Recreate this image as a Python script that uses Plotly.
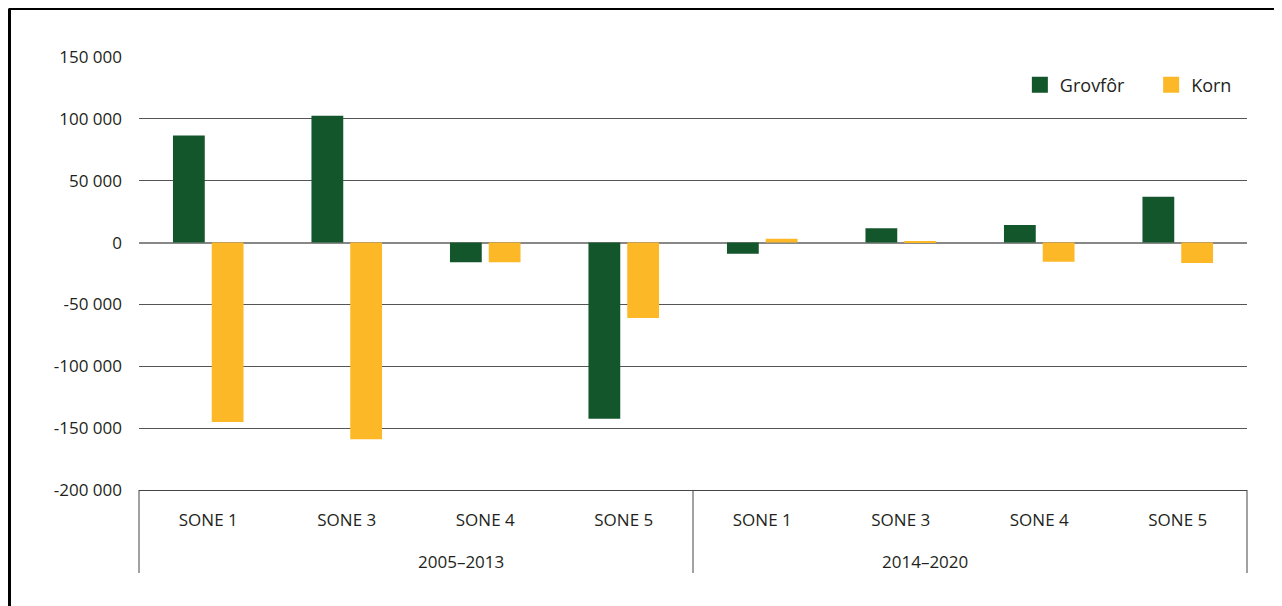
import plotly.graph_objects as go

periods = ["2005–2013", "2014–2020"]
zones = ["SONE 1", "SONE 3", "SONE 4", "SONE 5"]
categories = [f"{p} {z}" for p in periods for z in zones]
tick_labels = zones * 2
series_names = ["Grovfôr", "Korn"]
grovfor = [86500, 102500, -16000, -142500, -9000, 11500, 14300, 37000]
korn = [-145000, -159000, -16000, -61000, 3000, 800, -15500, -16500]
ytick_vals = [150000, 100000, 50000, 0, -50000, -100000, -150000, -200000]
ytick_text = ["150 000", "100 000", "50 000", "0", "-50 000", "-100 000", "-150 000", "-200 000"]

GREEN = "#14562c"
YELLOW = "#fcb827"
TEXT = "#231f20"
FONT = "Open Sans"
colors = [GREEN, YELLOW]
legend_ids = ["legend", "legend2"]

fig = go.Figure()
for name, vals, col in zip(series_names, [grovfor, korn], colors):
    fig.add_trace(go.Bar(x=categories, y=vals, name=name, showlegend=False,
                         marker=dict(color=col, line=dict(width=0))))
# legend entries with larger square symbols
for name, col, lg in zip(series_names, colors, legend_ids):
    fig.add_trace(go.Scatter(x=[None], y=[None], mode="markers", name=name, legend=lg,
                             marker=dict(symbol="square", size=16, color=col)))

PLOT_H = 598 - 49 - 116
leg_common = dict(orientation="h", y=0.935, xanchor="left", yanchor="middle",
                  font=dict(size=18, color=TEXT), bgcolor="rgba(0,0,0,0)")

fig.update_layout(
    width=1274, height=598,
    margin=dict(l=131, r=35, t=49, b=116),
    paper_bgcolor="white", plot_bgcolor="white",
    font=dict(family=FONT, size=17, color=TEXT),
    barmode="group", bargap=0.44, bargroupgap=0.18,
    showlegend=True,
    legend=dict(x=0.795, **leg_common),
    legend2=dict(x=0.9135, **leg_common),
    xaxis=dict(type="category", tickvals=categories, ticktext=tick_labels,
               showgrid=False, zeroline=False, showline=True, linecolor="#444444",
               linewidth=1, ticks="", tickfont=dict(size=17), ticklabelstandoff=15),
    yaxis=dict(range=[-200000, 150000], tickvals=ytick_vals, ticktext=ytick_text,
               showgrid=True, gridcolor="#555555", gridwidth=1,
               zeroline=True, zerolinecolor="#888888", zerolinewidth=2,
               showline=False, ticks="", ticklabelstandoff=16,
               tickfont=dict(size=17)),
)

# period labels under the zone labels
for i, p in enumerate(periods):
    fig.add_annotation(text=p, xref="paper", yref="paper", x=(i + 0.5) / len(periods),
                       y=-71 / PLOT_H, yanchor="middle", showarrow=False,
                       font=dict(size=17, color=TEXT))

# group dividers below the axis
for i in range(len(periods) + 1):
    xp = i / len(periods)
    fig.add_shape(type="line", xref="paper", yref="paper", x0=xp, x1=xp, y0=0, y1=-83 / PLOT_H,
                  line=dict(color="#444444", width=1))

# outer frame (top and left edges)
fig.add_shape(type="line", xref="paper", yref="paper", x0=-130 / 1108, x1=1.04,
              y0=1 + 48.5 / PLOT_H, y1=1 + 48.5 / PLOT_H, line=dict(color="black", width=3))
fig.add_shape(type="line", xref="paper", yref="paper", x0=-129.5 / 1108, x1=-129.5 / 1108,
              y0=1 + 48.5 / PLOT_H, y1=-0.3, line=dict(color="black", width=3))

fig.write_html("out.html")
